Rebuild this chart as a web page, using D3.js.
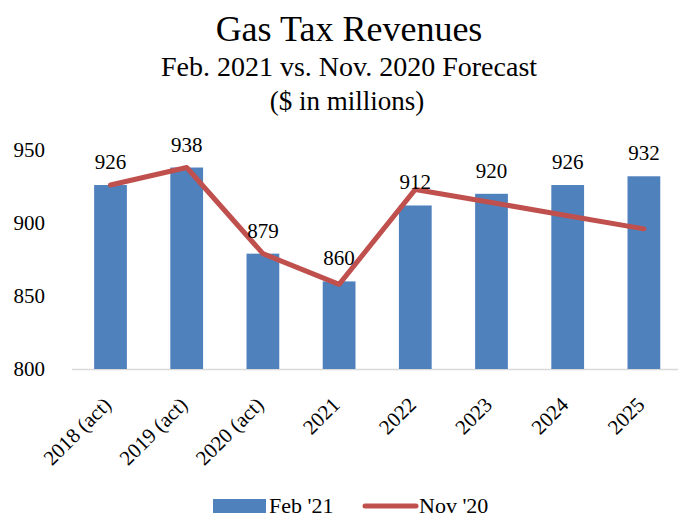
<!DOCTYPE html>
<html><head><meta charset="utf-8">
<script src="https://cdn.jsdelivr.net/npm/d3@7"></script>
<style>body{margin:0;background:#fff}svg{display:block}</style>
</head><body>
<svg id="c" width="678" height="517"></svg>
<script>
const categories = ["2018 (act)","2019 (act)","2020 (act)","2021","2022","2023","2024","2025"];
const feb21 = [926,938,879,860,912,920,926,932];
const nov20 = [926,938,879,858,923,914,905,896];
const yTicks = [800,850,900,950];
const titleLines = ["Gas Tax Revenues","Feb. 2021 vs. Nov. 2020 Forecast","($ in millions)"];
const seriesNames = ["Feb '21","Nov '20"];

const FONT = "'Liberation Serif','Times New Roman',serif";
const svg = d3.select("#c");
const x = d3.scaleBand().domain(categories).range([72.4, 682]).paddingInner(0.57).paddingOuter(0.285);
const y = d3.scaleLinear().domain([800,950]).range([369,150]);

svg.append("text").attr("x",349).attr("y",41).attr("text-anchor","middle")
  .style("font-family",FONT).style("font-size","36px").text(titleLines[0]);
svg.append("text").attr("x",349).attr("y",76).attr("text-anchor","middle")
  .style("font-family",FONT).style("font-size","28px").text(titleLines[1]);
svg.append("text").attr("x",347).attr("y",110).attr("text-anchor","middle")
  .style("font-family",FONT).style("font-size","27px").text(titleLines[2]);

// y axis labels
const yAxis = d3.axisLeft(y).tickValues(yTicks).tickSize(0).tickPadding(0);
const ya = svg.append("g").attr("transform","translate(45,0)").call(yAxis);
ya.select(".domain").remove();
ya.selectAll("text").style("font-family",FONT).style("font-size","21px").attr("fill","#000");

// baseline
svg.append("line").attr("x1",72).attr("x2",678).attr("y1",369.5).attr("y2",369.5)
  .attr("stroke","#d9d9d9").attr("stroke-width",1.5);

// bars
svg.selectAll("rect.bar").data(categories).enter().append("rect").attr("class","bar")
  .attr("x",d=>x(d)).attr("width",x.bandwidth())
  .attr("y",(d,i)=>y(feb21[i])).attr("height",(d,i)=>y(800)-y(feb21[i]))
  .attr("fill","#4f81bd");

// line
const line = d3.line().x((d,i)=>x(categories[i])+x.bandwidth()/2).y(d=>y(d));
svg.append("path").datum(nov20).attr("d",line).attr("fill","none")
  .attr("stroke","#c0504d").attr("stroke-width",5).attr("stroke-linejoin","round").attr("stroke-linecap","round");

// bar labels
svg.selectAll("text.lbl").data(categories).enter().append("text").attr("class","lbl")
  .attr("x",d=>x(d)+x.bandwidth()/2).attr("y",(d,i)=>y(feb21[i])-16)
  .attr("text-anchor","middle").style("font-family",FONT).style("font-size","21px")
  .text((d,i)=>feb21[i]);

// x labels
const xAxis = d3.axisBottom(x).tickSize(0).tickPadding(0);
const xa = svg.append("g").attr("transform","translate(0,369)").call(xAxis);
xa.select(".domain").remove();
xa.selectAll("text").style("font-family",FONT).style("font-size","21px").attr("fill","#000")
  .attr("text-anchor","end").attr("dy",null).attr("y",null)
  .attr("transform","translate(2,37) rotate(-45)");

// legend
const lg = svg.append("g");
lg.append("rect").attr("x",213).attr("y",499).attr("width",53).attr("height",14).attr("fill","#4f81bd");
lg.append("text").attr("x",269).attr("y",513).style("font-family",FONT).style("font-size","22px").text(seriesNames[0]);
lg.append("line").attr("x1",365).attr("x2",416).attr("y1",506).attr("y2",506)
  .attr("stroke","#c0504d").attr("stroke-width",5).attr("stroke-linecap","round");
lg.append("text").attr("x",419).attr("y",513).style("font-family",FONT).style("font-size","22px").text(seriesNames[1]);
</script>
</body></html>
